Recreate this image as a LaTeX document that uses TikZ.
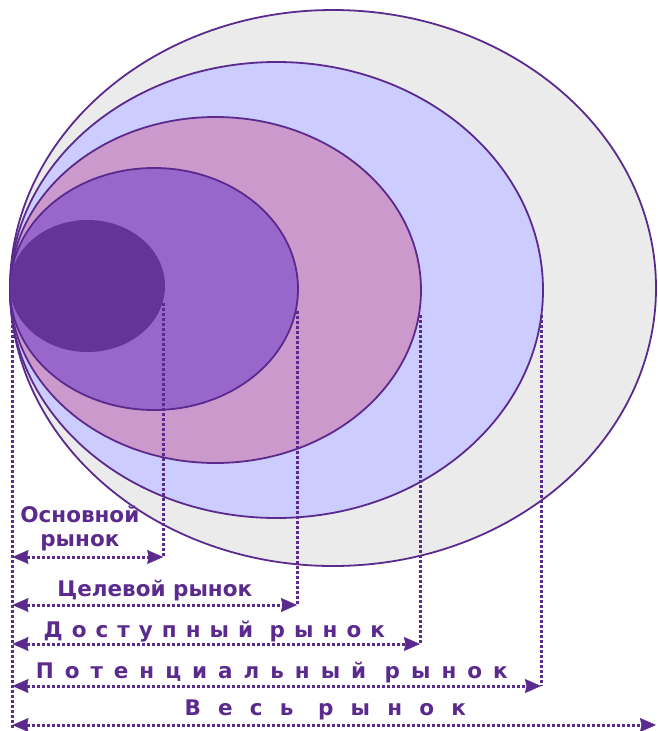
\documentclass[tikz,border=0pt]{standalone}
\usepackage{fontspec}
\setmainfont{DejaVu Sans}
\usetikzlibrary{arrows.meta, positioning, shapes.geometric}

\definecolor{mktline}{HTML}{5B2A8E}
\definecolor{allgrey}{HTML}{EBEBEB}
\definecolor{potblue}{HTML}{CCCCFF}
\definecolor{avpink}{HTML}{CC99CC}
\definecolor{tgtviolet}{HTML}{9966CC}
\definecolor{coreplum}{HTML}{663399}

\begin{document}
\begin{tikzpicture}[x=1pt, y=-1pt,
    mkt/.style={ellipse, draw=mktline, line width=1.8pt, inner sep=0pt, outer sep=0pt},
    dim/.style={draw=mktline, line width=3pt, dash pattern=on 2.8pt off 2.2pt},
    tip/.tip={Stealth[length=16pt, width=14pt, inset=1.5pt, line width=0.5pt]},
    span/.style={dim, tip-tip},
    lbl/.style={text=mktline, inner sep=0pt, font=\bfseries\fontsize{21.5}{24}\selectfont},
    track/.style={lbl, font=\bfseries\fontsize{21.5}{24}\selectfont\addfontfeature{LetterSpace=#1}},
]
  \useasboundingbox (0,0) rectangle (657,731);

  % Nested markets
  \node[mkt, fill=allgrey, minimum width=646pt, minimum height=556pt] (eAll) at (333,288) {};
  \node[mkt, fill=potblue, minimum width=533pt, minimum height=456pt] (ePot) at (276.5,290) {};
  \node[mkt, fill=avpink, minimum width=411pt, minimum height=346pt] (eAvail) at (215.5,290) {};
  \node[mkt, fill=tgtviolet, minimum width=288pt, minimum height=242pt] (eTarget) at (154,289) {};
  \node[ellipse, fill=coreplum, inner sep=0pt, minimum width=155pt, minimum height=132pt] (eCore) at (87.5,286) {};

  % Left edge of all dimension lines
  \coordinate (base) at (12.5,320);
  \draw[dim] (base) -- (base |- 0,728);

  % Vertical drops
  \draw[dim] ([xshift=-2pt,yshift=-17pt]eCore.east) -- ([xshift=-2pt]eCore.east |- 0,557);
  \draw[dim] ([xshift=-1pt,yshift=-22pt]eTarget.east) -- ([xshift=-1pt]eTarget.east |- 0,605);
  \draw[dim] ([xshift=-1pt,yshift=-25pt]eAvail.east) -- ([xshift=-1pt]eAvail.east |- 0,644);
  \draw[dim] ([xshift=-2pt,yshift=-25pt]ePot.east) -- ([xshift=-2pt]ePot.east |- 0,686);

  % Spans
  \draw[span] (base |- 0,557) -- ([xshift=-2pt]eCore.east |- 0,557)
    node[lbl, midway, align=center, anchor=south, yshift=5pt, xshift=-8pt] (tCore) {Основной\\рынок};
  \draw[span] (base |- 0,605) -- ([xshift=-1pt]eTarget.east |- 0,605)
    node[lbl, midway, anchor=base, yshift=9pt] (tTarget) {Целевой рынок};
  \draw[span] (base |- 0,644) -- ([xshift=-1pt]eAvail.east |- 0,644)
    node[track=42, midway, anchor=base, yshift=7pt, xshift=-2pt] (tAvail) {Доступный рынок};
  \draw[span] (base |- 0,686) -- ([xshift=-2pt]ePot.east |- 0,686)
    node[track=51, midway, anchor=base, yshift=8pt, xshift=-5pt] (tPot) {Потенциальный рынок};
  \draw[span] (base |- 0,725) -- (656,725)
    node[track=80, midway, anchor=base, yshift=10pt, xshift=-9pt] (tAll) {Весь рынок};
\end{tikzpicture}
\end{document}
